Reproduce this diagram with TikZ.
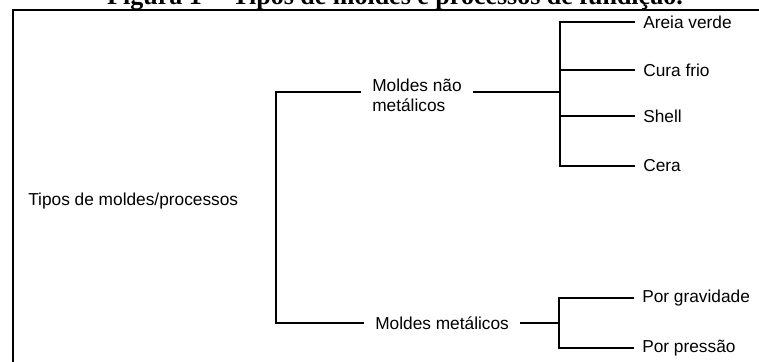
\documentclass[tikz,border=0pt]{standalone}
\usepackage{fontspec}
\setmainfont{Liberation Sans}
\newfontfamily\captionserif{Liberation Serif}
\usetikzlibrary{positioning}

\tikzset{
    branch/.style={line width=1.7pt, line cap=rect},
    frame/.style={line width=1.6pt},
    rootlabel/.style={anchor=west, inner sep=0pt, font=\fontsize{12.3}{14.2}\selectfont},
    midlabel/.style={anchor=west, inner xsep=0.3cm, inner ysep=0pt, align=left, font=\fontsize{12.3}{14.2}\selectfont},
    leaflabel/.style={anchor=west, inner xsep=0.225cm, inner ysep=0pt, font=\fontsize{12.3}{14.2}\selectfont},
    figcaption/.style={anchor=base, inner sep=0pt, font=\captionserif\bfseries\fontsize{18.5}{20}\selectfont}
}

\begin{document}
\begin{tikzpicture}
        \useasboundingbox (0,0) rectangle (18.975,9.025);
        \clip (0,0) rectangle (18.975,9.025);

        % Caption above the frame (only its lower part shows)
        \node[figcaption] (caption) at (9.875,8.925) {Figura 1 -- Tipos de moldes e processos de fundição.};

        % Frame round the chart, running off the right and bottom edges
        \draw[frame] (0.325,-1) |- (20,8.775);

        % Root and the two kinds of moulds
        \node[rootlabel] (root) at (0.7,4.0) {Tipos de moldes/processos};
        \node[midlabel] (nonmetal) at (9.0,6.65) {Moldes não\\metálicos};
        \node[midlabel] (metal) at (9.075,0.95) {Moldes metálicos};

        % Bars where the branches split
        \coordinate (ltop) at (6.9,6.725);
        \coordinate (lbot) at (6.9,0.95);
        \coordinate (rbar) at (14.0,6.725);
        \coordinate (mbar) at (13.975,0.95);

        % Processes of each kind
        \foreach \name/\txt/\y in {areia/Areia verde/8.475, cura/Cura frio/7.275,
                                   shell/Shell/6.125, cera/Cera/4.875} {
            \node[leaflabel] (\name) at (15.85,\y) {\txt};
        }
        \foreach \name/\txt/\y in {gravidade/Por gravidade/1.575, pressao/Por pressão/0.325} {
            \node[leaflabel] (\name) at (15.825,\y) {\txt};
        }

        % Left bracket
        \draw[branch] (nonmetal.west |- ltop) -- (ltop) -- (lbot) -- (metal.west);

        % Non-metallic branch
        \draw[branch] (nonmetal.east |- ltop) -- (rbar);
        \draw[branch] (areia.west -| rbar) -- (cera.west -| rbar);
        \foreach \name in {areia,cura,shell,cera} {
            \draw[branch] (\name.west -| rbar) -- (\name.west);
        }

        % Metallic branch
        \draw[branch] (metal.east) -- (mbar);
        \draw[branch] (gravidade.west -| mbar) -- (pressao.west -| mbar);
        \foreach \name in {gravidade,pressao} {
            \draw[branch] (\name.west -| mbar) -- (\name.west);
        }
\end{tikzpicture}
\end{document}
